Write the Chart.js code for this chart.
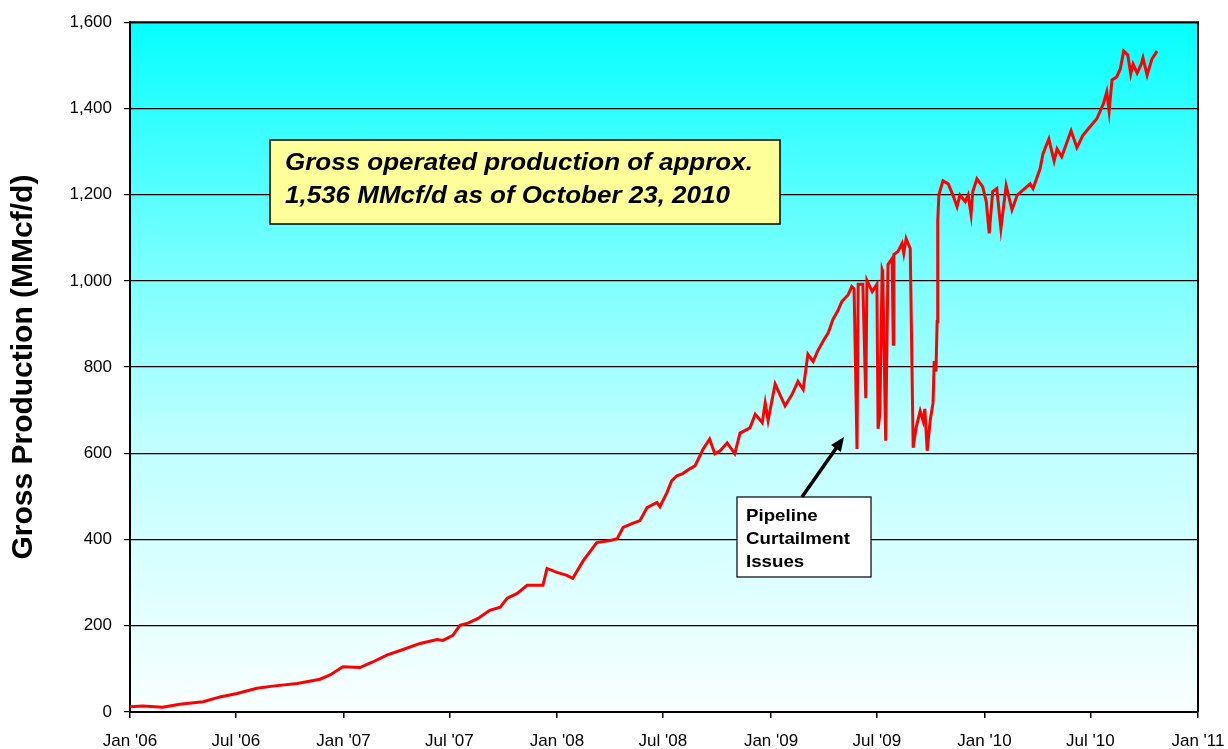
<!DOCTYPE html>
<html>
<head>
<meta charset="utf-8">
<script src="https://cdn.jsdelivr.net/npm/chart.js@4/dist/chart.umd.min.js"></script>
<style>
  body { margin: 0; background: #fff; }
  #wrap { width: 1228px; height: 749px; }
</style>
</head>
<body>
<div id="wrap"><canvas id="prodChart" width="1228" height="749"></canvas></div>
<script>
// days since Jan 1, 2006
const dayOffsets = [
  0, 22, 56, 85, 125, 154, 183, 217, 244, 286, 325, 342, 364, 393, 415, 439, 467, 496, 525, 535,
  552, 564, 578, 595, 615, 633, 645, 662, 679, 706, 713, 730, 747, 757, 775, 798, 821, 833, 843, 858,
  872, 884, 901, 906, 918, 926, 935, 945, 957, 966, 980, 991, 1000, 1009, 1021, 1034, 1043, 1060, 1069, 1081,
  1086, 1091, 1103, 1111, 1120, 1132, 1142, 1151, 1159, 1168, 1176, 1185, 1194, 1202, 1210, 1217, 1228, 1234, 1238, 1243,
  1245, 1253, 1258, 1260, 1269, 1277, 1279, 1282, 1286, 1287, 1292, 1296, 1303, 1305, 1306, 1313, 1320, 1323, 1327, 1334,
  1339, 1344, 1351, 1356, 1359, 1363, 1368, 1373, 1375, 1378, 1380, 1381, 1383, 1390, 1399, 1407, 1414, 1419, 1428, 1433,
  1438, 1441, 1448, 1458, 1464, 1469, 1475, 1482, 1489, 1498, 1508, 1517, 1539, 1544, 1556, 1561, 1571, 1580, 1585, 1593,
  1609, 1619, 1629, 1641, 1653, 1664, 1670, 1674, 1679, 1687, 1693, 1699, 1706, 1711, 1715, 1722, 1729, 1732, 1739, 1747,
  1756
];
// gross production, MMcf/d
const production = [
  12, 14, 11, 18, 24, 35, 43, 55, 60, 66, 76, 86, 105, 103, 116, 132, 145, 159, 168, 166,
  178, 201, 206, 217, 236, 243, 264, 275, 294, 294, 333, 324, 317, 310, 351, 393, 398, 402, 428, 437,
  444, 474, 486, 476, 509, 536, 548, 553, 564, 571, 610, 633, 599, 606, 624, 599, 647, 659, 691, 671,
  717, 676, 761, 737, 710, 737, 767, 748, 830, 813, 838, 860, 880, 911, 930, 952, 968, 987, 982, 610,
  992, 992, 728, 1001, 975, 992, 657, 690, 1026, 1022, 629, 1038, 1052, 853, 1061, 1068, 1087, 1064, 1098, 1075,
  613, 659, 698, 675, 703, 606, 675, 717, 814, 790, 906, 1138, 1200, 1232, 1225, 1199, 1172, 1199, 1184, 1199,
  1154, 1207, 1237, 1218, 1184, 1110, 1207, 1214, 1121, 1221, 1165, 1199, 1225, 1214, 1260, 1295, 1329, 1278, 1306, 1288,
  1348, 1309, 1337, 1357, 1376, 1410, 1438, 1394, 1466, 1473, 1491, 1533, 1524, 1480, 1503, 1482, 1503, 1517, 1477, 1514,
  1533
];

const tickDays = [0, 181, 365, 546, 730, 911, 1096, 1277, 1461, 1642, 1826];
const tickLabels = ["Jan '06", "Jul '06", "Jan '07", "Jul '07", "Jan '08", "Jul '08",
  "Jan '09", "Jul '09", "Jan '10", "Jul '10", "Jan '11"];

const FONT = "'Liberation Sans', Arial, sans-serif";

const points = dayOffsets.map((d, i) => ({ x: d, y: production[i] }));

// draw text squeezed/stretched horizontally like the original export
function wideText(ctx, text, x, y, sx) {
  ctx.save();
  ctx.translate(x, y);
  ctx.scale(sx, 1);
  ctx.fillText(text, 0, 0);
  ctx.restore();
}

// gradient background + frame + callout boxes
const decor = {
  id: "decor",
  beforeDraw(chart) {
    const { ctx, chartArea: a } = chart;
    const g = ctx.createLinearGradient(0, a.top, 0, a.bottom);
    g.addColorStop(0, "rgb(5,255,255)");
    g.addColorStop(0.33, "rgb(115,255,255)");
    g.addColorStop(0.6, "rgb(190,255,255)");
    g.addColorStop(1, "rgb(250,255,255)");
    ctx.save();
    ctx.fillStyle = g;
    ctx.fillRect(a.left, a.top, a.right - a.left, a.bottom - a.top);
    ctx.restore();
  },
  afterDraw(chart) {
    const { ctx, chartArea: a } = chart;
    ctx.save();
    ctx.strokeStyle = "#000";
    ctx.lineWidth = 2;
    ctx.beginPath();
    ctx.moveTo(a.left, a.top);
    ctx.lineTo(a.right, a.top);
    ctx.lineTo(a.right, a.bottom);
    ctx.stroke();

    // yellow note
    ctx.fillStyle = "#ffff99";
    ctx.fillRect(270, 140, 510, 84);
    ctx.lineWidth = 1.5;
    ctx.strokeRect(270, 140, 510, 84);
    ctx.fillStyle = "#000";
    ctx.font = "italic bold 23px " + FONT;
    ctx.textBaseline = "alphabetic";
    wideText(ctx, "Gross operated production of approx.", 285, 170, 1.13);
    wideText(ctx, "1,536 MMcf/d as of October 23, 2010", 285, 203, 1.13);

    // pipeline note
    ctx.fillStyle = "#fff";
    ctx.fillRect(737, 497, 134, 80);
    ctx.lineWidth = 1.2;
    ctx.strokeRect(737, 497, 134, 80);
    ctx.fillStyle = "#000";
    ctx.font = "bold 17px " + FONT;
    wideText(ctx, "Pipeline", 746, 521, 1.1);
    wideText(ctx, "Curtailment", 746, 544, 1.1);
    wideText(ctx, "Issues", 746, 567, 1.1);

    // arrow
    const x0 = 802, y0 = 497, x1 = 844, y1 = 437;
    const ang = Math.atan2(y1 - y0, x1 - x0);
    ctx.lineWidth = 3.5;
    ctx.beginPath();
    ctx.moveTo(x0, y0);
    ctx.lineTo(x1 - 8 * Math.cos(ang), y1 - 8 * Math.sin(ang));
    ctx.stroke();
    ctx.beginPath();
    ctx.moveTo(x1, y1);
    ctx.lineTo(x1 - 14 * Math.cos(ang) + 6 * Math.sin(ang), y1 - 14 * Math.sin(ang) - 6 * Math.cos(ang));
    ctx.lineTo(x1 - 14 * Math.cos(ang) - 6 * Math.sin(ang), y1 - 14 * Math.sin(ang) + 6 * Math.cos(ang));
    ctx.closePath();
    ctx.fill();
    ctx.restore();
  }
};

new Chart(document.getElementById("prodChart"), {
  type: "line",
  data: {
    datasets: [{
      label: "Gross Production",
      data: points,
      borderColor: "#ff0000",
      borderWidth: 3,
      pointRadius: 0,
      tension: 0,
      fill: false
    }]
  },
  options: {
    responsive: false,
    animation: false,
    layout: { padding: { left: 0, top: 20, right: 30, bottom: 0 } },
    plugins: {
      legend: { display: false },
      tooltip: { enabled: false }
    },
    scales: {
      x: {
        type: "linear",
        min: 0,
        max: 1826,
        afterBuildTicks: (scale) => {
          scale.ticks = tickDays.map(v => ({ value: v }));
        },
        afterFit: (scale) => {
          scale.height = 37;
          scale.paddingLeft = 0;
          scale.paddingRight = 0;
        },
        ticks: {
          autoSkip: false,
          maxRotation: 0,
          padding: 13,
          color: "#000",
          font: { family: FONT, size: 17 },
          callback: (v, i) => tickLabels[i]
        },
        grid: {
          drawOnChartArea: false,
          drawTicks: true,
          tickLength: 6,
          color: "#000",
          lineWidth: 1.5
        },
        border: { color: "#000", width: 2 }
      },
      y: {
        min: 0,
        max: 1600,
        afterFit: (scale) => { scale.width = 130; },
        ticks: {
          stepSize: 200,
          padding: 12,
          color: "#000",
          font: { family: FONT, size: 17 },
          callback: (v) => v.toLocaleString("en-US")
        },
        grid: {
          color: "#000",
          lineWidth: 1.2,
          tickLength: 6
        },
        border: { color: "#000", width: 2 },
        title: {
          display: true,
          text: "Gross Production (MMcf/d)",
          color: "#000",
          font: { family: FONT, size: 30, weight: "bold" },
          padding: { top: 6, bottom: 0 }
        }
      }
    }
  },
  plugins: [decor]
});
</script>
</body>
</html>
